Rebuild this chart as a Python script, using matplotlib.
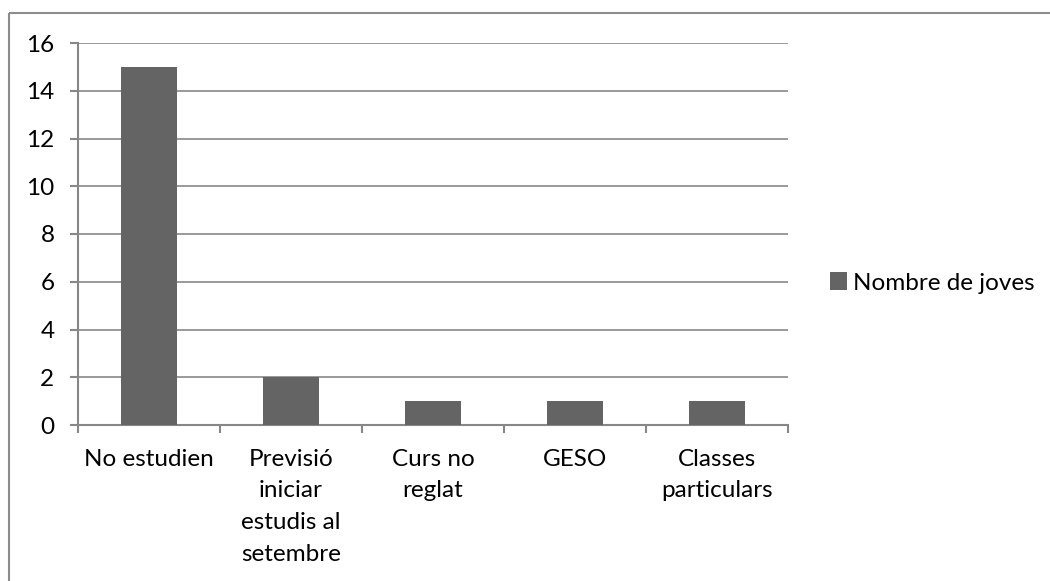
import matplotlib
matplotlib.use("Agg")
import matplotlib.pyplot as plt
from matplotlib.patches import Rectangle

categories = ["No estudien", "Previsió\niniciar\nestudis al\nsetembre", "Curs no\nreglat",
              "GESO", "Classes\nparticulars"]
values = [15, 2, 1, 1, 1]
series_name = "Nombre de joves"
y_ticks = [0, 2, 4, 6, 8, 10, 12, 14, 16]

plt.rcParams["font.family"] = ["Lato", "DejaVu Sans"]
W, H = 1050, 581
fig = plt.figure(figsize=(W / 100, H / 100), dpi=100)
fig.patch.set_facecolor("white")

# outer chart border (runs off the right and bottom edges like the original)
fig.add_artist(Rectangle((9 / W, 1 - 13 / H), 1.1, -1.2, transform=fig.transFigure,
                         fill=False, edgecolor="#8c8c8c", linewidth=1.5))

ax = fig.add_axes([78 / W, 1 - 425 / H, (788 - 78) / W, (425 - 43) / H])
grid_c = "#878787"
x = list(range(len(categories)))
ax.bar(x, values, width=0.4, color="#646464", label=series_name, zorder=3)
ax.set_xlim(-0.5, len(categories) - 0.5)
ax.set_ylim(0, 16)
ax.set_yticks(y_ticks)
ax.set_yticklabels([str(v) for v in y_ticks])
ax.yaxis.grid(True, color=grid_c, linewidth=1.2, zorder=0)
ax.set_axisbelow(True)

ax.set_xticks(x)
ax.set_xticklabels(categories, linespacing=1.63, va="top")
ax.tick_params(axis="x", length=0, pad=17, labelsize=17.5, colors="black")
ax.set_xticks([i - 0.5 for i in range(len(categories) + 1)], minor=True)
ax.tick_params(axis="x", which="minor", length=6, width=1.5, color=grid_c, direction="out")
ax.tick_params(axis="y", length=6, width=1.5, color=grid_c, labelsize=17.5, pad=11)

for s in ["top", "right"]:
    ax.spines[s].set_visible(False)
for s in ["left", "bottom"]:
    ax.spines[s].set_color(grid_c)
    ax.spines[s].set_linewidth(1.5)

ax.legend(loc="center left", bbox_to_anchor=(808 / W, 1 - 283 / H),
          bbox_transform=fig.transFigure, frameon=False, fontsize=17.5,
          handlelength=0.7, handleheight=0.7, handletextpad=0.25)

fig.savefig("out.png", dpi=100)
